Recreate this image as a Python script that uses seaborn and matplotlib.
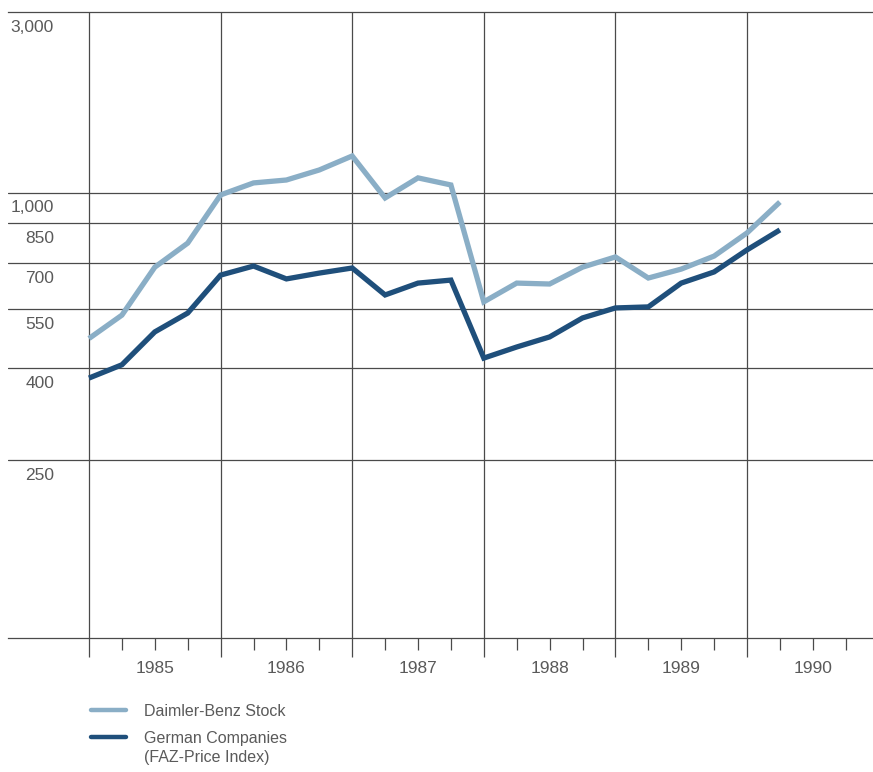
import numpy as np
import pandas as pd
import matplotlib
matplotlib.use("Agg")
import matplotlib.pyplot as plt
import seaborn as sns
from matplotlib.lines import Line2D
from matplotlib.ticker import FixedLocator, FixedFormatter, NullFormatter
from matplotlib.transforms import blended_transform_factory, offset_copy

# ---------------- data ----------------
dates = [1985.00, 1985.25, 1985.50, 1985.75,
         1986.00, 1986.25, 1986.50, 1986.75,
         1987.00, 1987.25, 1987.50, 1987.75,
         1988.00, 1988.25, 1988.50, 1988.75,
         1989.00, 1989.25, 1989.50, 1989.75,
         1990.00, 1990.25]
daimler = [469, 532, 685, 771, 988, 1061, 1080, 1148, 1250, 972, 1094, 1048,
           571, 630, 627, 685, 721, 647, 678, 724, 810, 951]
german = [380, 407, 486, 538, 657, 689, 644, 664, 682, 592, 630, 640,
          422, 448, 473, 524, 553, 556, 630, 668, 746, 822]
series_names = ["Daimler-Benz Stock", "German Companies\n(FAZ-Price Index)"]
grid_values = [250, 400, 550, 700, 850, 1000]
label_values = [3000, 1000, 850, 700, 550, 400, 250]
years = [1985, 1986, 1987, 1988, 1989, 1990]

df = pd.DataFrame({
    "date": dates * 2,
    "value": daimler + german,
    "series": [series_names[0]] * len(dates) + [series_names[1]] * len(dates),
})

# ---------------- style ----------------
sns.set_theme(style="white")
plt.rcParams["font.family"] = ["Liberation Sans", "DejaVu Sans"]
text_color = "#5a5a5a"
grid_color = "#4a4a4a"
colors = {series_names[0]: "#8aaec6", series_names[1]: "#1f4f7b"}

fig = plt.figure(figsize=(8.73, 7.72), dpi=100)
ax = fig.add_axes([8 / 873, 134 / 772, 865 / 873, 626 / 772])

# piecewise logarithmic value axis (as drawn in the original)
anchor_vals = np.log([100, 250, 400, 550, 700, 850, 1000, 3000])
anchor_pos = np.array([0, 0.2843, 0.4313, 0.5256, 0.599, 0.6629, 0.7114, 1.0])


def fwd(v):
    v = np.clip(np.asarray(v, dtype=float), 1e-9, None)
    return np.interp(np.log(v), anchor_vals, anchor_pos)


def inv(p):
    return np.exp(np.interp(np.asarray(p, dtype=float), anchor_pos, anchor_vals))


sns.lineplot(data=df, x="date", y="value", hue="series", palette=colors,
             linewidth=3.8, ax=ax, legend=False, solid_joinstyle="miter",
             solid_capstyle="butt")

ax.set_yscale("function", functions=(fwd, inv))
ax.set_ylim(100, 3000)
ax.set_xlim(1985 - 81 / 131.6, 1985 + 784 / 131.6)

# spines
for s in ["left", "right"]:
    ax.spines[s].set_visible(False)
for s in ["top", "bottom"]:
    ax.spines[s].set_visible(True)
    ax.spines[s].set_color(grid_color)
    ax.spines[s].set_linewidth(0.9)

# y grid lines
ax.yaxis.set_major_locator(FixedLocator(grid_values))
ax.yaxis.set_minor_locator(FixedLocator([]))
ax.yaxis.set_major_formatter(NullFormatter())
ax.tick_params(axis="y", length=0)
ax.grid(axis="y", color=grid_color, linewidth=0.9)

# x: year boundaries as grid + long ticks, quarters as short ticks
ax.xaxis.set_major_locator(FixedLocator(years))
ax.xaxis.set_major_formatter(NullFormatter())
minor_pos = []
minor_lab = []
for y in years:
    for q in (0.25, 0.5, 0.75):
        minor_pos.append(y + q)
        minor_lab.append(str(y) if q == 0.5 else "")
ax.xaxis.set_minor_locator(FixedLocator(minor_pos))
ax.xaxis.set_minor_formatter(FixedFormatter(minor_lab))
ax.grid(axis="x", which="major", color=grid_color, linewidth=0.9)
ax.tick_params(axis="x", which="major", direction="out", length=14,
               width=0.9, color=grid_color, bottom=True)
ax.tick_params(axis="x", which="minor", direction="out", length=8.5,
               width=0.9, color=grid_color, bottom=True, pad=8,
               labelsize=12.5, labelcolor=text_color)
ax.set_xlabel("")
ax.set_ylabel("")

# y labels sit just below their line, inside the plot area
trans = blended_transform_factory(ax.transAxes, ax.transData)
trans = offset_copy(trans, fig=fig, x=0, y=-11, units="points")
for v in label_values:
    ax.text((54 - 8) / 865, v, f"{v:,}", transform=trans, ha="right",
            va="center", fontsize=12.5, color=text_color)

# legend
handles = [Line2D([], [], color=colors[n], linewidth=3.2) for n in series_names]
leg = fig.legend(handles, series_names, loc="upper left",
                 bbox_to_anchor=(91 / 873, 1 - 704 / 772),
                 frameon=False, fontsize=11.5, handlelength=2.2,
                 handletextpad=1.1, borderpad=0, borderaxespad=0,
                 labelspacing=0.75, labelcolor=text_color)
for t in leg.get_texts():
    t.set_linespacing(1.35)
# align handle with the first line of a multi-line label
for col in leg._legend_handle_box.get_children():
    for row in col.get_children():
        row.align = "top"

fig.savefig("out.png", dpi=100)
